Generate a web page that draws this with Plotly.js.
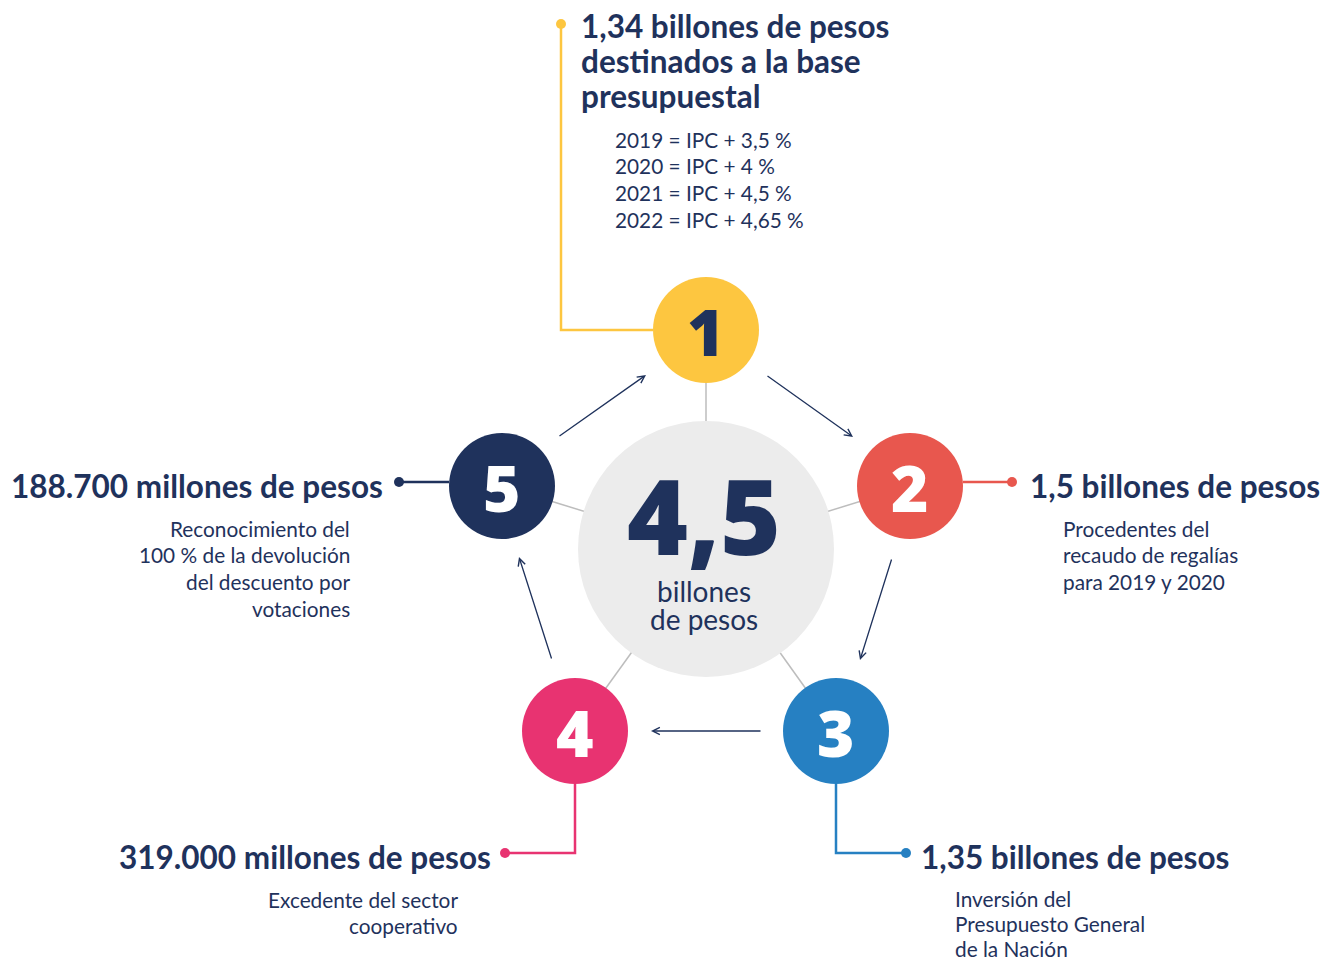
<!DOCTYPE html>
<html>
<head>
<meta charset="utf-8">
<script src="https://cdn.plot.ly/plotly-3.0.1.min.js"></script>
<style>html,body{margin:0;padding:0;background:#fff;}#chart{width:1332px;height:962px;}</style>
</head>
<body>
<div id="chart"></div>
<script>
// ---- DATA ----
const steps = ['1', '2', '3', '4', '5'];
const headlineLines = [
  ['1,34 billones de pesos', 'destinados a la base', 'presupuestal'],
  ['1,5 billones de pesos'],
  ['1,35 billones de pesos'],
  ['319.000 millones de pesos'],
  ['188.700 millones de pesos']
];
const detailLines = [
  ['2019 = IPC + 3,5 %', '2020 = IPC + 4 %', '2021 = IPC + 4,5 %', '2022 = IPC + 4,65 %'],
  ['Procedentes del', 'recaudo de regalías', 'para 2019 y 2020'],
  ['Inversión del', 'Presupuesto General', 'de la Nación'],
  ['Excedente del sector', 'cooperativo'],
  ['Reconocimiento del', '100 % de la devolución', 'del descuento por', 'votaciones']
];
const totalValue = '4,5';
const totalUnitLines = ['billones', 'de pesos'];

// ---- LAYOUT / STYLE ----
const NAVY = '#1f325c';
const stepColors = ['#fdc640', '#e8574e', '#2680c2', '#e83371', '#1f325c'];
const numColors = [NAVY, '#ffffff', '#ffffff', '#ffffff', '#ffffff'];
const center = {x: 706, y: 549, r: 128};
const nodes = [{x: 706, y: 330}, {x: 910, y: 486}, {x: 836, y: 731}, {x: 575, y: 731}, {x: 502, y: 486}];
const R = 53;
const leaders = [
  [[653, 330], [561, 330], [561, 24]],
  [[963, 482], [1012, 482]],
  [[836, 784], [836, 853], [906, 853]],
  [[575, 784], [575, 853], [505, 853]],
  [[449, 482], [399, 482]]
];
const headPos = [
  {x: 580, y: 26, anchor: 'left', step: 35},
  {x: 1029, y: 486, anchor: 'left', step: 35},
  {x: 920, y: 857, anchor: 'left', step: 35},
  {x: 492, y: 857, anchor: 'right', step: 35},
  {x: 384, y: 486, anchor: 'right', step: 35}
];
const detailPos = [
  {x: 614, y: 139, anchor: 'left', step: 26.7},
  {x: 1062, y: 528, anchor: 'left', step: 26.7},
  {x: 954, y: 898, anchor: 'left', step: 25},
  {x: 459, y: 899, anchor: 'right', step: 26.7},
  {x: 351, y: 528, anchor: 'right', step: 26.7}
];
const arrows = [
  [[766, 375], [853, 437]],
  [[892, 558], [860, 660]],
  [[762, 731], [651, 731]],
  [[552, 660], [519, 557]],
  [[558, 437], [646, 375]]
];

const FONT = 'Lato, "Open Sans", sans-serif';
const HEAVY = '"Noto Sans", Lato, sans-serif';
const shapes = [];
const annotations = [];

nodes.forEach(n => {
  shapes.push({type: 'line', xref: 'x', yref: 'y', x0: center.x, y0: center.y, x1: n.x, y1: n.y,
    line: {color: '#bdbdbd', width: 1.5}, layer: 'below'});
});
leaders.forEach((pts, i) => {
  let path = 'M' + pts.map(p => p[0] + ',' + p[1]).join(' L');
  shapes.push({type: 'path', xref: 'x', yref: 'y', path: path,
    line: {color: stepColors[i], width: 2.5}, layer: 'below'});
});

arrows.forEach(a => {
  annotations.push({x: a[1][0], y: a[1][1], ax: a[0][0], ay: a[0][1], xref: 'x', yref: 'y',
    axref: 'x', ayref: 'y', showarrow: true, arrowhead: 5, arrowsize: 1.1, arrowwidth: 1.3,
    arrowcolor: NAVY, text: ''});
});

headlineLines.forEach((lines, i) => {
  const p = headPos[i];
  lines.forEach((t, j) => {
    annotations.push({x: p.x, y: p.y + j * p.step, xref: 'x', yref: 'y', text: t, showarrow: false,
      xanchor: p.anchor, yanchor: 'middle', align: p.anchor, borderpad: 0,
      font: {family: FONT, size: 31.5, color: NAVY, weight: 700}});
  });
});
detailLines.forEach((lines, i) => {
  const p = detailPos[i];
  lines.forEach((t, j) => {
    annotations.push({x: p.x, y: p.y + j * p.step, xref: 'x', yref: 'y', text: t, showarrow: false,
      xanchor: p.anchor, yanchor: 'middle', align: p.anchor, borderpad: 0,
      font: {family: FONT, size: 20.8, color: NAVY, weight: 400}});
  });
});
steps.forEach((s, i) => {
  annotations.push({x: nodes[i].x, y: nodes[i].y + 1, xref: 'x', yref: 'y', text: s, showarrow: false,
    xanchor: 'center', yanchor: 'middle', font: {family: HEAVY, size: 64, color: numColors[i], weight: 900}});
});
annotations.push({x: center.x - 2, y: 514, xref: 'x', yref: 'y', text: totalValue, showarrow: false,
  xanchor: 'center', yanchor: 'middle', borderpad: 0, font: {family: HEAVY, size: 104, color: NAVY, weight: 900}});
totalUnitLines.forEach((t, j) => {
  annotations.push({x: center.x - 2, y: 591 + j * 28, xref: 'x', yref: 'y', text: t, showarrow: false,
    xanchor: 'center', yanchor: 'middle', borderpad: 0, font: {family: FONT, size: 28, color: NAVY, weight: 400}});
});

const traces = [
  {type: 'scatter', mode: 'markers', x: [center.x], y: [center.y], hoverinfo: 'skip',
    marker: {size: center.r * 2, color: '#ececec', line: {width: 0}}},
  {type: 'scatter', mode: 'markers', x: nodes.map(n => n.x), y: nodes.map(n => n.y), hoverinfo: 'skip',
    marker: {size: R * 2, color: stepColors, line: {width: 0}}},
  {type: 'scatter', mode: 'markers', x: leaders.map(l => l[l.length - 1][0]), y: leaders.map(l => l[l.length - 1][1]),
    hoverinfo: 'skip', marker: {size: 10, color: stepColors, line: {width: 0}}}
];

const layout = {
  width: 1332, height: 962, margin: {l: 0, r: 0, t: 0, b: 0},
  paper_bgcolor: '#ffffff', plot_bgcolor: '#ffffff', showlegend: false,
  xaxis: {range: [0, 1332], visible: false, fixedrange: true},
  yaxis: {range: [962, 0], visible: false, fixedrange: true},
  shapes: shapes, annotations: annotations
};
Plotly.newPlot('chart', traces, layout, {staticPlot: true, displayModeBar: false});
</script>
</body>
</html>
